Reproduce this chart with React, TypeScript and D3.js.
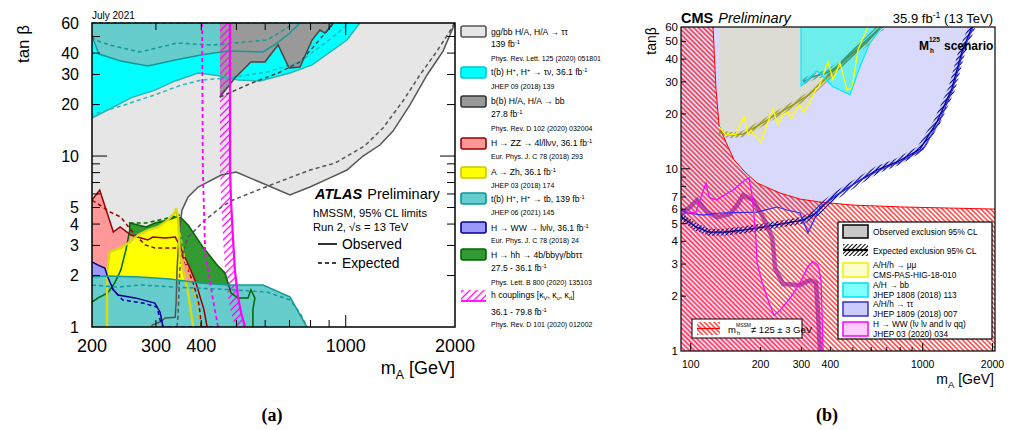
import * as d3 from 'd3';
import React from 'react';

type Pt = [number, number];

// ---------- (a) ATLAS hMSSM exclusions, points are [mA GeV, tanβ] ----------
const tauTauObs: Pt[] = [
  [2000, 60], [1854, 41.1], [1675, 29.8], [1503, 19.9], [1350, 14.0], [1242, 11.6], [1116, 10.0],
  [1008, 8.28], [905, 7.45], [797, 6.59], [702, 5.92], [499, 8.07], [454, 7.75], [392, 6.59],
  [368, 5.76], [354, 4.83], [349, 3.85], [345, 2.71], [343, 2.15], [341, 1.38], [339, 1.14],
  [318, 1.13], [308, 1.07], [294, 1.03], [291, 1],
];
const tauTauExp: Pt[] = [
  [1990, 60], [1962, 56.1], [1784, 41.1], [1601, 29.8], [1438, 21.0], [1267, 14.6], [1130, 11.5],
  [935, 9.1], [797, 8.28], [619, 6.75], [489, 5.53], [454, 5.03], [410, 4.23], [368, 3.36],
  [352, 2.57], [349, 2.15], [345, 1.14], [343, 1],
];
const tauNuObs: Pt[] = [
  [200, 16.7], [221, 18.6], [256, 21.9], [298, 24.3], [339, 27.5], [392, 30.6], [454, 29.4],
  [505, 27.8], [581, 27.5], [702, 30.6], [808, 34.1], [1008, 47.7], [1094, 60],
];
const tauNuExp: Pt[] = [
  [200, 60], [1016, 60], [1008, 58.4], [922, 49.7], [748, 35.5], [607, 31.0], [471, 28.6],
  [399, 27.8], [352, 26.0], [298, 22.8], [240, 19.6], [208, 17.9], [200, 17.4],
];
const tbHighObs: Pt[] = [
  [200, 50.4], [209, 39.5], [240, 36.0], [285, 33.6], [339, 36.5], [399, 39.0], [474, 41.1],
  [592, 40.6], [646, 45.8], [702, 52.4], [748, 60],
];
const tbHighExp: Pt[] = [
  [200, 50], [204, 47.7], [224, 44.6], [271, 40.6], [343, 45.8], [431, 44.6], [607, 47.7],
  [689, 56.1], [716, 60],
];
const bbObs: Pt[] = [
  [450, 22.1], [495, 28.6], [548, 35.5], [599, 35.5], [651, 44.6], [698, 32.7], [748, 33.2],
  [808, 47.7], [849, 54.6], [877, 52.4], [917, 58.4], [922, 60],
];
const bbExp: Pt[] = [[450, 22.1], [545, 26.5], [651, 30.6], [748, 35.5], [833, 46], [895, 55], [922, 60]];
const zzObs: Pt[] = [
  [200, 5.53], [210, 6.33], [229, 3.59], [239, 3.85], [256, 3.45], [273, 3.32], [285, 3.23],
  [294, 3.36], [318, 3.32], [339, 3.36], [345, 3.14], [356, 2.71], [372, 2.21], [387, 1.81],
  [397, 1.50], [407, 1.26], [415, 1],
];
const zzExp: Pt[] = [
  [200, 5.5], [204, 5.38], [224, 4.71], [240, 4.40], [256, 3.69], [280, 3.02], [298, 2.90],
  [345, 2.90], [356, 2.57], [368, 2.15], [380, 1.81], [392, 1.44], [397, 1.21], [399, 1],
];
const zhObs: Pt[] = [
  [220, 1], [220, 2.07], [224, 2.75], [240, 2.90], [254, 3.14], [268, 3.45], [285, 3.69],
  [304, 3.85], [324, 4.23], [339, 4.71], [341, 4.97], [345, 4.40], [349, 2.71], [356, 2.15],
  [368, 1.58], [375, 1.21], [380, 1],
];
const zhExp: Pt[] = [[341, 4.71], [349, 3.6], [361, 2.47], [372, 1.88], [384, 1.50], [392, 1.21], [397, 1]];
const hhObs: Pt[] = [
  [200, 1.40], [208, 1.48], [221, 1.58], [231, 1.81], [240, 2.15], [248, 2.82], [254, 3.69],
  [254, 4.06], [282, 3.85], [298, 4.06], [324, 4.23], [341, 4.40], [352, 4.34], [368, 3.95],
  [384, 3.45], [404, 2.94], [425, 2.57], [443, 2.30], [465, 2.07], [474, 1.81], [483, 1.58],
  [505, 1.48], [538, 1.48], [548, 1.65], [562, 1.48], [555, 1.26], [555, 1],
];
const hhExp: Pt[] = [[254, 4.06], [282, 4.06], [318, 4.3], [349, 4.52]];
const wwObs: Pt[] = [
  [200, 2.40], [208, 2.30], [217, 2.21], [221, 1.96], [229, 1.65], [236, 1.54], [263, 1.48],
  [298, 1.38], [308, 1.22], [314, 1],
];
const wwExp: Pt[] = [[226, 1.7], [243, 1.44], [276, 1.38], [302, 1.31], [308, 1.10], [314, 1], [450, 1]];
const tbLowObs: Pt[] = [
  [200, 1.96], [220, 1.99], [271, 1.96], [328, 1.91], [397, 1.81], [471, 1.76], [592, 1.76],
  [702, 1.50], [782, 1],
];
const tbLowExp: Pt[] = [
  [200, 1.76], [235, 1.71], [271, 1.76], [343, 1.71], [489, 1.65], [607, 1.60], [702, 1.44],
  [748, 1.21], [782, 1],
];
const hcoupObs: Pt[] = [[480, 60], [480, 8.28], [483, 5.53], [489, 3.36], [495, 2.15], [505, 1.50], [515, 1.21], [528, 1]];
const hcoupExp: Pt[] = [[402, 60], [404, 8.28], [410, 2.71], [423, 1.81], [436, 1.26], [445, 1]];

// ---------- (b) CMS Mh125 scenario ----------
const mhBoundary: Pt[] = [
  [124.8, 60], [128.5, 27.5], [132.4, 17.4], [141.9, 14.0], [153.7, 11.2], [171.4, 9.60],
  [193.1, 8.36], [242.6, 7.36], [295.9, 6.82], [360.9, 6.57], [500.7, 6.32], [822.6, 6.17], [2050, 6.01],
];
const tauTauObsB: Pt[] = [
  [1648, 60], [1492, 43.9], [1351, 27.5], [1180, 18.1], [1003, 12.8], [798.5, 10.9], [654.5, 9.85],
  [521, 8.46], [427, 7.18], [360.9, 6.17], [320.4, 4.44], [295.9, 5.72], [260.1, 5.94], [235.5, 6.17],
  [193.1, 5.79], [133.8, 5.72], [113, 5.57], [96.4, 5.72], [90.8, 5.94],
];
const tauTauExpB: Pt[] = [
  [1631, 60], [1476, 43.9], [1335, 27.5], [1153, 18.1], [973, 12.8], [775, 10.9], [635, 9.85],
  [521, 8.46], [427, 7.18], [383, 6.49], [347, 5.72], [305, 5.23], [257.5, 5.03], [205, 4.79],
  [168, 4.61], [142, 4.50], [120, 4.49], [105.4, 4.79], [92.6, 5.36], [90.8, 5.57],
];
const muMuObs: Pt[] = [
  [132.4, 17.0], [141.9, 15.3], [156.8, 15.5], [169.7, 19.3], [176.6, 15.3], [181.9, 16.3],
  [191.2, 15.0], [200.9, 14.0], [215.4, 18.1], [226.3, 21.3], [237.9, 17.4], [249.9, 19.8],
  [262.7, 20.5], [270.6, 18.8], [292.9, 22.4], [307.9, 20.5], [323.6, 22.7], [346.9, 27.5],
  [357.3, 28.2], [390.7, 38.7], [410.7, 30.8], [440, 38.2], [471.8, 27.1], [495.8, 27.8],
  [526.2, 45.0], [581, 60],
];
const muMuExp: Pt[] = [
  [132.4, 15.9], [146.2, 15.3], [168.1, 15.5], [197, 17.4], [233.2, 19.8], [276, 22.4],
  [323.6, 25.5], [383.1, 31.2], [422.9, 35.4], [486.1, 42.2], [575.3, 49.2], [635.3, 57.9], [674.4, 60],
];
const bbObsB: Pt[] = [
  [298.8, 60], [298.8, 28.5], [350.3, 34.5], [410.7, 28.2], [486.1, 25.5], [536.7, 36.3],
  [592.7, 49.2], [667.7, 60],
];
const bbExpB: Pt[] = [
  [304.9, 30.0], [336.7, 32.0], [386.8, 33.6], [440, 37.2], [500.7, 43.3], [592.7, 53.0], [665, 60],
];
const wwObsB: Pt[] = [
  [90.8, 5.65], [105.4, 5.79], [109.7, 6.74], [116.4, 8.36], [119.9, 7.00], [128.5, 6.74],
  [152.2, 7.65], [171.4, 8.68], [178.4, 8.90], [183.7, 7.18], [187.4, 5.57], [191.2, 4.06],
  [193.1, 3.07], [202.9, 2.39], [215.4, 1.90], [228.6, 1.57], [242.6, 1.67], [267.9, 1.95],
  [295.9, 2.36], [320.4, 2.92], [336.7, 3.11], [353.8, 2.96], [364.5, 2.45], [368.1, 1.67], [371.9, 1],
];
const wwExpB: Pt[] = [
  [92.6, 5.72], [99.3, 6.17], [106.5, 6.74], [117.6, 5.79], [129.8, 5.43], [147.7, 5.65],
  [158.4, 6.32], [168.1, 7.18], [185.5, 6.74], [204.9, 5.43], [224.1, 4.22], [228.6, 3.36],
  [230.9, 2.85], [249.9, 2.33], [295.9, 2.30], [326.8, 2.45], [346.9, 2.36], [353.8, 1.61], [360.9, 1],
];

// ticks / labels
const aXLabels = [200, 300, 400, 1000, 2000];
const aYLabels = [1, 2, 3, 4, 5, 10, 20, 30, 40, 60];
const aXMinor = [300, 400, 500, 600, 700, 800, 900];
const aXMajor = [1000];
const bXLabels = [100, 200, 300, 400, 1000, 2000];
const bYLabels = [1, 2, 3, 4, 5, 6, 7, 10, 20, 30, 40, 50, 60];
const bXMinor = [200, 300, 400, 500, 600, 700, 800, 900];
const bXMajor = [100, 1000, 2000];
const yMinor = [2, 3, 4, 5, 6, 7, 8, 9, 20, 30, 40, 50];
const yMajor = [10];

const legendA = [
  { fill: '#e6e6e6', stroke: '#555555', y0: 26, lines: [[35, 'gg/bb H/A, H/A → ττ', 0], [47, '139 fb^{-1}', 0], [61, 'Phys. Rev. Lett. 125 (2020) 051801', 1]] },
  { fill: '#00ffff', stroke: '#00c8c8', y0: 67, lines: [[75, 't(b) H^{+}, H^{+} → τν, 36.1 fb^{-1}', 0], [89, 'JHEP 09 (2018) 139', 1]] },
  { fill: '#999999', stroke: '#333333', y0: 96, lines: [[104, 'b(b) H/A, H/A → bb', 0], [117, '27.8 fb^{-1}', 0], [131, 'Phys. Rev. D 102 (2020) 032004', 1]] },
  { fill: '#ff9999', stroke: '#990000', y0: 138, lines: [[146, 'H → ZZ → 4l/llνν, 36.1 fb^{-1}', 0], [159, 'Eur. Phys. J. C 78 (2018) 293', 1]] },
  { fill: '#ffff00', stroke: '#c8c800', y0: 167, lines: [[175, 'A → Zh, 36.1 fb^{-1}', 0], [188, 'JHEP 03 (2018) 174', 1]] },
  { fill: '#66cccc', stroke: '#009999', y0: 193, lines: [[202, 't(b) H^{+}, H^{+} → tb, 139 fb^{-1}', 0], [215, 'JHEP 06 (2021) 145', 1]] },
  { fill: '#9999ff', stroke: '#000099', y0: 222, lines: [[231, 'H → WW → lνlν, 36.1 fb^{-1}', 0], [243, 'Eur. Phys. J. C 78 (2018) 24', 1]] },
  { fill: '#339933', stroke: '#006600', y0: 249, lines: [[258, 'H → hh → 4b/bbγγ/bbττ', 0], [271, '27.5 - 36.1 fb^{-1}', 0], [285, 'Phys. Lett. B 800 (2020) 135103', 1]] },
  { fill: 'hatch', stroke: '#ff00ff', y0: 290, lines: [[298, 'h couplings [κ_{V}, κ_{u}, κ_{d}]', 0], [315, '36.1 - 79.8 fb^{-1}', 0], [327, 'Phys. Rev. D 101 (2020) 012002', 1]] },
];
const legendB = [
  { fill: '#ffffcc', stroke: '#f0f000', y0: 263, a: 'A/H/h → μμ', b: 'CMS-PAS-HIG-18-010' },
  { fill: '#80ffff', stroke: '#00e0f0', y0: 283, a: 'A/H → bb', b: 'JHEP 1808 (2018) 113' },
  { fill: '#ccccff', stroke: '#3333cc', y0: 302, a: 'A/H/h → ττ', b: 'JHEP 1809 (2018) 007' },
  { fill: '#ffccff', stroke: '#ff00ff', y0: 322, a: 'H → WW (lν lν and lν qq)', b: 'JHEP 03 (2020) 034' },
];

const SANS = 'Liberation Sans, Arial, Helvetica, sans-serif';

const xA = d3.scaleLog().domain([200, 2000]).range([92, 455]);
const yA = d3.scaleLog().domain([1, 60]).range([327, 23]);
const xB = d3.scaleLog().domain([90.8, 2050]).range([681, 995]);
const yB = d3.scaleLog().domain([1, 60]).range([351, 27]);

function mk(x: any, y: any) {
  const line = d3.line<Pt>().x(d => x(d[0])).y(d => y(d[1]));
  return {
    line: (p: Pt[]) => line(p) || '',
    area: (p: Pt[]) => (line(p) || '') + 'Z',
  };
}

// text with ^{sup} and _{sub}
function rich(s: string, fs: number) {
  const out: React.ReactNode[] = [];
  const re = /([\^_])\{([^}]*)\}/g;
  let last = 0, cur = 0, k = 0;
  let m: RegExpExecArray | null;
  const push = (t: string, target: number, size: number) => {
    out.push(<tspan key={k++} dy={target - cur} fontSize={size}>{t}</tspan>);
    cur = target;
  };
  while ((m = re.exec(s)) !== null) {
    if (m.index > last) push(s.slice(last, m.index), 0, fs);
    push(m[2], m[1] === '^' ? -0.4 * fs : 0.28 * fs, fs * 0.68);
    last = re.lastIndex;
  }
  if (last < s.length) push(s.slice(last), 0, fs);
  return out;
}

function ticks(x: any, y: any, box: any, xMin: number[], xMaj: number[], yMin: number[], yMaj: number[],
  lx: [number, number], ly: [number, number], both: boolean) {
  const out: React.ReactNode[] = [];
  let k = 0;
  const st = { stroke: '#000', strokeWidth: 1 };
  const xt = (v: number, len: number) => {
    out.push(<line key={k++} x1={x(v)} x2={x(v)} y1={box.b} y2={box.b - len} {...st} />);
    if (both) out.push(<line key={k++} x1={x(v)} x2={x(v)} y1={box.t} y2={box.t + len} {...st} />);
  };
  const yt = (v: number, len: number) => {
    out.push(<line key={k++} x1={box.l} x2={box.l + len} y1={y(v)} y2={y(v)} {...st} />);
    if (both) out.push(<line key={k++} x1={box.r} x2={box.r - len} y1={y(v)} y2={y(v)} {...st} />);
  };
  xMin.forEach(v => xt(v, lx[0]));
  xMaj.forEach(v => xt(v, lx[1]));
  yMin.forEach(v => yt(v, ly[0]));
  yMaj.forEach(v => yt(v, ly[1]));
  return out;
}

export default function App() {
  const A = mk(xA, yA);
  const B = mk(xB, yB);
  const boxA = { l: 92, r: 455, t: 23, b: 327 };
  const boxB = { l: 681, r: 995, t: 27, b: 351 };

  // hatched band on the excluded (low mA) side of the h-couplings contour
  const hcPix: Pt[] = hcoupObs.map(d => [xA(d[0]), yA(d[1])]);
  const hcBand = (d3.line()([...hcPix, ...hcPix.slice().reverse().map(([px, py]) => [px - 10, py] as Pt)]) || '') + 'Z';

  const dash = '4 3';

  return (
    <svg width={1011} height={430} style={{ position: 'absolute', left: 0, top: 0, background: '#fff' }}
      fontFamily={SANS}>
      <defs>
        <clipPath id="clipA"><rect x={92} y={21} width={363} height={306} /></clipPath>
        <clipPath id="clipB"><rect x={681} y={27} width={314} height={324} /></clipPath>
        <pattern id="hMag" patternUnits="userSpaceOnUse" width={5} height={5} patternTransform="rotate(45)">
          <line x1={2.5} y1={0} x2={2.5} y2={5} stroke="#ff00ff" strokeWidth={1.3} />
        </pattern>
        <pattern id="hRed" patternUnits="userSpaceOnUse" width={3.4} height={3.4} patternTransform="rotate(-45)">
          <line x1={1.7} y1={0} x2={1.7} y2={3.4} stroke="#ff1010" strokeWidth={1.2} />
        </pattern>
        <pattern id="hNavy" patternUnits="userSpaceOnUse" width={3} height={3} patternTransform="rotate(45)">
          <line x1={1.5} y1={0} x2={1.5} y2={3} stroke="#00008b" strokeWidth={1.1} />
        </pattern>
        <pattern id="hOlive" patternUnits="userSpaceOnUse" width={3.5} height={3.5} patternTransform="rotate(45)">
          <line x1={1.75} y1={0} x2={1.75} y2={3.5} stroke="#808000" strokeWidth={1} />
        </pattern>
        <pattern id="hTeal" patternUnits="userSpaceOnUse" width={3.5} height={3.5} patternTransform="rotate(45)">
          <line x1={1.75} y1={0} x2={1.75} y2={3.5} stroke="#1f8a78" strokeWidth={1} />
        </pattern>
        <pattern id="hBlack" patternUnits="userSpaceOnUse" width={3} height={3} patternTransform="rotate(45)">
          <line x1={1.5} y1={0} x2={1.5} y2={3} stroke="#000" strokeWidth={1} />
        </pattern>
      </defs>

      {/* ================= panel (a) ================= */}
      <rect x={92} y={23} width={363} height={304} fill="#fff" />
      <g clipPath="url(#clipA)">
        <path d={A.area([...tauTauObs, [200, 1], [200, 60]])} fill="#e6e6e6" />
        <path d={A.area([[200, 60], ...tauNuObs])} fill="#00ffff" />
        <path d={A.area([[200, 60], ...tbHighObs])} fill="#66cccc" />
        <path d={A.area([[450, 60], ...bbObs])} fill="#999999" />
        <path d={A.area([[200, 1], ...hhObs])} fill="#339933" />
        <path d={A.area([[200, 1], ...zzObs])} fill="#ff9999" />
        <path d={A.area(zhObs)} fill="#ffff00" />
        <path d={A.area([[200, 1], ...wwObs])} fill="#9999ff" />
        <path d={A.area([[200, 1], ...tbLowObs])} fill="#66cccc" />
        <path d={hcBand} fill="url(#hMag)" />

        <g fill="none" strokeWidth={1.5}>
          <path d={A.line(tauTauObs)} stroke="#555" />
          <path d={A.line(tauTauExp)} stroke="#555" strokeDasharray={dash} />
          <path d={A.line(tauNuObs)} stroke="#2bb5b5" />
          <path d={A.line(tauNuExp)} stroke="#22bcbc" strokeDasharray={dash} />
          <path d={A.line(tbHighObs)} stroke="#139a9a" />
          <path d={A.line(tbHighExp)} stroke="#139a9a" strokeDasharray={dash} />
          <path d={A.line(bbObs)} stroke="#444" />
          <path d={A.line(bbExp)} stroke="#444" strokeDasharray={dash} />
          <path d={A.line(hhObs)} stroke="#006600" />
          <path d={A.line(hhExp)} stroke="#006600" strokeDasharray={dash} />
          <path d={A.line(zzObs)} stroke="#990000" />
          <path d={A.line(zzExp)} stroke="#990000" strokeDasharray={dash} />
          <path d={A.line(zhObs)} stroke="#dada10" strokeWidth={2.4} />
          <path d={A.line(zhExp)} stroke="#cccc00" strokeDasharray={dash} />
          <path d={A.line(wwObs)} stroke="#000099" />
          <path d={A.line(wwExp)} stroke="#000099" strokeDasharray={dash} />
          <path d={A.line(tbLowObs)} stroke="#139a9a" />
          <path d={A.line(tbLowExp)} stroke="#139a9a" strokeDasharray={dash} />
          <path d={A.line(hcoupObs)} stroke="#ff00ff" strokeWidth={2.2} />
          <path d={A.line(hcoupExp)} stroke="#ff00ff" strokeWidth={1.8} strokeDasharray={dash} />
        </g>
      </g>
      {ticks(xA, yA, boxA, aXMinor, aXMajor, yMinor, yMajor, [7, 12], [8, 15], true)}
      <rect x={92} y={23} width={363} height={304} fill="none" stroke="#000" strokeWidth={1.5} />

      <text x={92} y={19} fontSize={10}>July 2021</text>
      {aYLabels.map(v => (
        <text key={v} x={79} y={yA(v) + 5.5} fontSize={16} textAnchor="end">{v}</text>
      ))}
      {aXLabels.map(v => (
        <text key={v} x={xA(v)} y={352} fontSize={18} textAnchor="middle">{v}</text>
      ))}
      <text x={455} y={374} fontSize={18} textAnchor="end" style={{ whiteSpace: 'pre' }}>{rich('m_{A} [GeV]', 18)}</text>
      <text transform="translate(29,44) rotate(-90)" fontSize={17} textAnchor="middle">tan β</text>

      <text x={315} y={199} fontSize={14.5}>
        <tspan fontWeight="bold" fontStyle="italic">ATLAS</tspan>
        <tspan dx={5}>Preliminary</tspan>
      </text>
      <text x={313} y={217} fontSize={11.2}>hMSSM, 95% CL limits</text>
      <text x={313} y={231} fontSize={11.2}>Run 2, √s = 13 TeV</text>
      <line x1={318} x2={337} y1={244} y2={244} stroke="#000" strokeWidth={1.6} />
      <text x={342} y={249} fontSize={13.8}>Observed</text>
      <line x1={318} x2={337} y1={263} y2={263} stroke="#000" strokeWidth={1.6} strokeDasharray="4 3" />
      <text x={342} y={268} fontSize={13.8}>Expected</text>

      {/* legend (a) */}
      {legendA.map((e, i) => (
        <g key={i}>
          {e.fill === 'hatch' ? (
            <g>
              <rect x={461} y={e.y0} width={25} height={11} fill="url(#hMag)" />
              <line x1={461} x2={486} y1={e.y0 + 11} y2={e.y0 + 11} stroke="#ff00ff" strokeWidth={1.8} />
            </g>
          ) : (
            <rect x={461} y={e.y0} width={25} height={11} rx={2} fill={e.fill} stroke={e.stroke} strokeWidth={1.6} />
          )}
          {e.lines.map((l: any, j: number) => (
            <text key={j} x={491} y={l[0]} fontSize={l[2] ? 7 : 8.6} style={{ whiteSpace: 'pre' }}>
              {rich(l[1], l[2] ? 7 : 8.6)}
            </text>
          ))}
        </g>
      ))}

      {/* ================= panel (b) ================= */}
      <rect x={681} y={27} width={314} height={324} fill="#fff" />
      <g clipPath="url(#clipB)">
        <path d={B.area([...tauTauObsB, [90.8, 60]])} fill="#d9d9fc" />
        <path d={B.area([[132.4, 60], ...muMuObs])} fill="#dcdcd5" />
        <path d={B.area(bbObsB)} fill="#00ffff" fillOpacity={0.5} />
        <path d={B.area([...wwObsB, [90.8, 1]])} fill="#ffccff" fillOpacity={0.85} />
        <path d={B.area([[90.8, 60], ...mhBoundary, [2050, 1], [90.8, 1]])} fill="url(#hRed)" />
        <path d={B.line(mhBoundary)} fill="none" stroke="#ff0000" strokeWidth={1} />

        <g fill="none">
          <path d={B.line(muMuExp)} stroke="url(#hOlive)" strokeWidth={6} />
          <path d={B.line(muMuExp)} stroke="#999900" strokeWidth={1.4} />
          <path d={B.line(bbExpB)} stroke="url(#hTeal)" strokeWidth={6} />
          <path d={B.line(bbExpB)} stroke="#2a9a88" strokeWidth={1.4} />
          <path d={B.line(tauTauExpB)} stroke="url(#hNavy)" strokeWidth={7} />
          <path d={B.line(tauTauExpB)} stroke="#00008b" strokeWidth={1.3} />
          <path d={B.line(wwExpB)} stroke="#a0209a" strokeWidth={4.5} strokeOpacity={0.7} />
          <path d={B.line(muMuObs)} stroke="#ffff00" strokeWidth={1.3} />
          <path d={B.line(bbObsB)} stroke="#00e5ff" strokeWidth={1.1} />
          <path d={B.line(tauTauObsB)} stroke="#2a2aff" strokeWidth={1.2} />
          <path d={B.line(wwObsB)} stroke="#ff00ff" strokeWidth={1.2} />
        </g>
      </g>
      {ticks(xB, yB, boxB, bXMinor, bXMajor, yMinor, yMajor, [4, 8], [5, 9], false)}
      <rect x={681} y={27} width={314} height={324} fill="none" stroke="#000" strokeWidth={1.2} />

      <text x={681} y={23} fontSize={14.5}>
        <tspan fontWeight="bold">CMS</tspan>
        <tspan dx={5} fontStyle="italic">Preliminary</tspan>
      </text>
      <text x={993} y={23} fontSize={13} textAnchor="end" style={{ whiteSpace: 'pre' }}>{rich('35.9 fb^{-1} (13 TeV)', 13)}</text>
      <text x={919} y={50} fontSize={12} fontWeight="bold">M</text>
      <text x={930} y={53} fontSize={6.5} fontWeight="bold">h</text>
      <text x={929} y={42} fontSize={6.5} fontWeight="bold">125</text>
      <text x={944} y={50} fontSize={12} fontWeight="bold">scenario</text>

      {bYLabels.map(v => (
        <text key={v} x={678} y={yB(v) + 4} fontSize={11.5} textAnchor="end">{v}</text>
      ))}
      {bXLabels.map(v => (
        <text key={v} x={xB(v)} y={368} fontSize={10.5} textAnchor="middle">{v}</text>
      ))}
      <text x={994} y={384} fontSize={14} textAnchor="end" style={{ whiteSpace: 'pre' }}>{rich('m_{A} [GeV]', 14)}</text>
      <text transform="translate(656,41) rotate(-90)" fontSize={14} textAnchor="middle">tanβ</text>

      {/* legend (b) */}
      <rect x={838} y={222} width={154} height={117} fill="#fff" stroke="#000" strokeWidth={1.2} />
      <rect x={843} y={225} width={25} height={13} fill="#c8c8c8" stroke="#000" strokeWidth={1.5} />
      <text x={873} y={235} fontSize={8.3}>Observed exclusion 95% CL</text>
      <rect x={843} y={244} width={25} height={12} fill="url(#hBlack)" />
      <line x1={843} x2={868} y1={250} y2={250} stroke="#000" strokeWidth={2.2} />
      <text x={873} y={254} fontSize={8.3}>Expected exclusion 95% CL</text>
      {legendB.map((e, i) => (
        <g key={i}>
          <rect x={843} y={e.y0} width={25} height={14} fill={e.fill} stroke={e.stroke} strokeWidth={1.5} />
          <text x={873} y={e.y0 + 5} fontSize={8.3}>{e.a}</text>
          <text x={873} y={e.y0 + 15} fontSize={8.3}>{e.b}</text>
        </g>
      ))}
      <rect x={692} y={319} width={110} height={19} fill="#fff" stroke="#000" strokeWidth={1} />
      <rect x={697} y={322} width={23} height={13} fill="url(#hRed)" />
      <line x1={697} x2={720} y1={328.5} y2={328.5} stroke="#ff0000" strokeWidth={1.3} />
      <text x={728} y={333} fontSize={9.5}>m</text>
      <text x={737} y={335} fontSize={5.5}>h</text>
      <text x={736} y={327} fontSize={5}>MSSM</text>
      <text x={751} y={333} fontSize={9.5}>≠ 125 ± 3 GeV</text>

      {/* captions */}
      <text x={272} y={421} fontSize={18} fontWeight="bold" textAnchor="middle" fontFamily="Liberation Serif, Times New Roman, serif">(a)</text>
      <text x={827} y={421} fontSize={18} fontWeight="bold" textAnchor="middle" fontFamily="Liberation Serif, Times New Roman, serif">(b)</text>
    </svg>
  );
}
